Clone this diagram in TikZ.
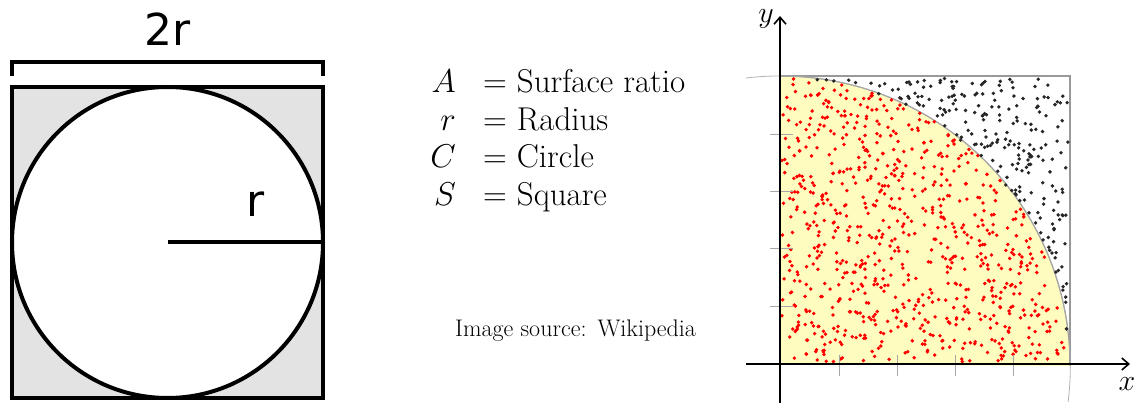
\RequirePackage{fix-cm}
\documentclass[tikz,border=0pt]{standalone}
\usepackage{fontspec}
\newfontfamily\djv{DejaVu Sans}
\usetikzlibrary{arrows.meta}
\begin{document}
\begin{tikzpicture}[x=1pt,y=-1pt,
  thick line/.style={line width=4pt},
  sanslbl/.style={font=\djv\fontsize{44}{50}\selectfont, inner sep=0pt},
  varlbl/.style={font=\fontsize{33}{38}\selectfont, inner sep=0pt, anchor=base east},
  deflbl/.style={font=\fontsize{33}{38}\selectfont, inner sep=0pt, anchor=base west},
  axis/.style={line width=1.8pt, -{Straight Barb[length=7pt,width=12pt,line width=1.6pt]}},
  tickmark/.style={draw=gray!70, line width=1pt},
  axlbl/.style={font=\fontsize{30}{34}\selectfont, inner sep=0pt}]
\useasboundingbox (0,0) rectangle (1135,403);
% ---------- left: square with inscribed circle
\fill[gray!22] (12,87) rectangle (323,398);
\draw[thick line] (12,87) rectangle (323,398);
\draw[thick line, fill=white] (167.5,242.5) circle (155.5);
\coordinate (ctr) at (167.5,242.5);
\coordinate (rim) at (323,242.5);
\draw[thick line] (ctr) -- (rim);
\node[sanslbl, anchor=base] (rlbl) at (256,217) {r};
\coordinate (bl) at (12,76);
\coordinate (br) at (323,76);
\draw[thick line] (bl) -- ++(0,-14) -| (br);
\node[sanslbl, anchor=base] (drlbl) at (167.5,46) {2r};
% ---------- middle: legend
\node[varlbl] (vA) at (456,93) {$A$};
\node[deflbl] (dA) at (483,93) {$=$ Surface ratio};
\node[varlbl] (vr) at (456,131) {$r$};
\node[deflbl] (dr) at (483,131) {$=$ Radius};
\node[varlbl] (vC) at (456,168) {$C$};
\node[deflbl] (dC) at (483,168) {$=$ Circle};
\node[varlbl] (vS) at (456,206) {$S$};
\node[deflbl] (dS) at (483,206) {$=$ Square};
\node[font=\fontsize{24}{28}\selectfont, inner sep=0pt, anchor=base west] (src) at (455,336) {Image source:\hspace{11pt}Wikipedia};
% ---------- right: Monte Carlo quarter circle
\fill[yellow!25] (780,364) -- (780,76) arc[start angle=-90, end angle=0, radius=290] -- cycle;
\draw[gray!60, line width=0.8pt] (746,78) arc[start angle=-96.8, end angle=7.1, radius=290];
\draw[gray!80, line width=1.2pt] (780,76) rectangle (1070,364);
\draw[gray!70, line width=1.2pt] (780,76) arc[start angle=-90, end angle=0, radius=290];
\pgfmathsetseed{12345}
\foreach \i in {1,...,1000}{
  \pgfmathsetmacro\u{rnd}
  \pgfmathsetmacro\v{rnd}
  \pgfmathtruncatemacro\ins{(\u*\u+\v*\v<1)?1:0}
  \ifnum\ins=1 \def\dc{red}\else\def\dc{black!85}\fi
  \fill[\dc] (782+286*\u, 362-284*\v) circle (1.9);
}
\foreach \xx in {839,897,955,1013}{
  \draw[tickmark] (\xx,355) -- (\xx,376);
}
\foreach \yy in {135,192,249,307}{
  \draw[tickmark] (770,\yy) -- (793,\yy);
}
\coordinate (xs) at (746,364);
\coordinate (xe) at (1130,364);
\coordinate (ys) at (780,403);
\coordinate (ye) at (780,16);
\draw[axis] (xs) -- (xe);
\draw[axis] (ys) -- (ye);
\node[axlbl] (xl) at (1127,384) {$x$};
\node[axlbl] (yl) at (766,19) {$y$};
\end{tikzpicture}
\end{document}
